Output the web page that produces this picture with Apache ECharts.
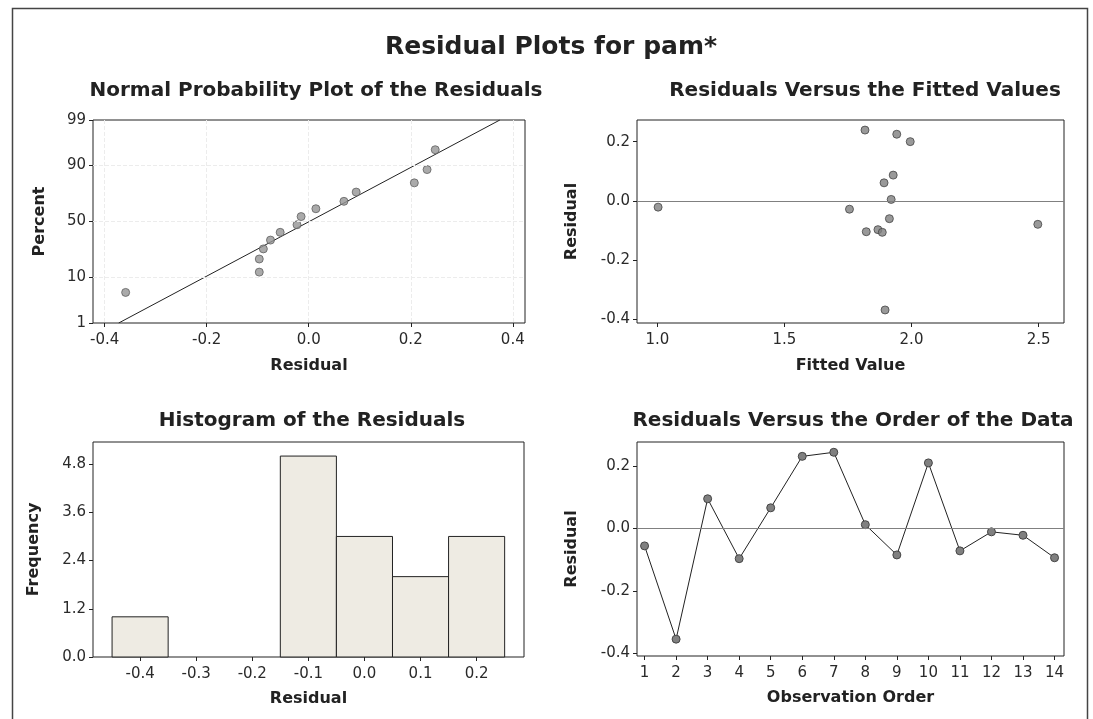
<!DOCTYPE html>
<html>
<head>
<meta charset="utf-8">
<script src="https://cdn.jsdelivr.net/npm/echarts@6/dist/echarts.min.js"></script>
<style>
html,body{margin:0;padding:0;background:#fff;}
#chart{width:1093px;height:719px;}
</style>
</head>
<body>
<div id="chart"></div>
<script>
// ---------- data ----------
const mainTitle = 'Residual Plots for pam*';
const panelTitles = ['Normal Probability Plot of the Residuals','Residuals Versus the Fitted Values','Histogram of the Residuals','Residuals Versus the Order of the Data'];

// normal probability plot (residual, percent)
const probResidual = [-0.359,-0.097,-0.097,-0.089,-0.075,-0.056,-0.023,-0.015,0.014,0.069,0.093,0.207,0.232,0.248];
const probPercent  = [5.2,12.3,19.5,26.5,33.5,40.2,47.0,54.5,61.5,67.8,75.0,81.2,88.3,95.0];
const fitLineResidual = [-0.3726, 0.3747];
const fitLinePercent  = [1, 99];
const percentTicks = [1,10,50,90,99];
const percentGrid = [10,50,90];
const probXTicks = [-0.4,-0.2,0.0,0.2,0.4];

// residuals vs fitted
const fittedValues = [1.817,1.942,1.995,1.928,1.892,1.920,1.003,1.756,1.913,1.822,1.868,1.885,1.896,2.497];
const fittedResiduals = [0.239,0.225,0.200,0.087,0.061,0.005,-0.021,-0.028,-0.060,-0.104,-0.097,-0.106,-0.368,-0.079];
const fittedXTicks = [1.0,1.5,2.0,2.5];
const residualTicks = [-0.4,-0.2,0.0,0.2];

// histogram
const binMid = [-0.4,-0.3,-0.2,-0.1,0.0,0.1,0.2];
const binCount = [1,0,0,5,3,2,3];
const binWidth = 0.1;
const freqTicks = [0.0,1.2,2.4,3.6,4.8];

// residuals vs order
const orderIndex = [1,2,3,4,5,6,7,8,9,10,11,12,13,14];
const orderResiduals = [-0.056,-0.355,0.095,-0.097,0.066,0.231,0.244,0.012,-0.085,0.210,-0.072,-0.011,-0.022,-0.094];

// ---------- helpers ----------
function normInv(p){
  const a=[-3.969683028665376e+01,2.209460984245205e+02,-2.759285104469687e+02,1.383577518672690e+02,-3.066479806614716e+01,2.506628277459239e+00];
  const b=[-5.447609879822406e+01,1.615858368580409e+02,-1.556989798598866e+02,6.680131188771972e+01,-1.328068155288572e+01];
  const c=[-7.784894002430293e-03,-3.223964580411365e-01,-2.400758277161838e+00,-2.549732539343734e+00,4.374664141464968e+00,2.938163982698783e+00];
  const d=[7.784695709041462e-03,3.224671290700398e-01,2.445134137142996e+00,3.754408661907416e+00];
  const pl=0.02425, ph=1-pl; let q,r;
  if(p<pl){q=Math.sqrt(-2*Math.log(p));return (((((c[0]*q+c[1])*q+c[2])*q+c[3])*q+c[4])*q+c[5])/((((d[0]*q+d[1])*q+d[2])*q+d[3])*q+1);}
  if(p<=ph){q=p-0.5;r=q*q;return (((((a[0]*r+a[1])*r+a[2])*r+a[3])*r+a[4])*r+a[5])*q/(((((b[0]*r+b[1])*r+b[2])*r+b[3])*r+b[4])*r+1);}
  q=Math.sqrt(-2*Math.log(1-p));return -(((((c[0]*q+c[1])*q+c[2])*q+c[3])*q+c[4])*q+c[5])/((((d[0]*q+d[1])*q+d[2])*q+d[3])*q+1);
}
const zOf = pct => normInv(pct/100);
const zTicks = percentTicks.map(zOf);

const FONT = 'DejaVu Sans';
const labelStyle = {color:'#2a2a2a', fontSize:15, fontFamily:FONT};
const nameStyle = {color:'#222', fontSize:16, fontWeight:'bold', fontFamily:FONT};
const markerStyle = {color:'#808080', borderColor:'#454545', borderWidth:1};

function xAxis(gi, min, max, ticks, fmt, name, nameGap){
  return {type:'value', gridIndex:gi, position:'bottom', min, max, name, nameLocation:'middle', nameGap, nameTextStyle:nameStyle,
    axisLine:{show:false, onZero:false}, axisTick:{show:true, inside:false, length:4, customValues:ticks, lineStyle:{color:'#222'}},
    axisLabel:Object.assign({customValues:ticks, margin:10, formatter:fmt, showMinLabel:true, showMaxLabel:true}, labelStyle),
    splitLine:{show:false}};
}
function yAxis(gi, min, max, ticks, fmt, name, nameGap){
  return {type:'value', gridIndex:gi, position:'left', min, max, name, nameLocation:'middle', nameGap, nameTextStyle:nameStyle,
    axisLine:{show:false, onZero:false}, axisTick:{show:true, inside:false, length:4, customValues:ticks, lineStyle:{color:'#222'}},
    axisLabel:Object.assign({customValues:ticks, margin:7, formatter:fmt, showMinLabel:true, showMaxLabel:true}, labelStyle),
    splitLine:{show:false}};
}
const f1 = v => Number(v).toFixed(1);
const fInt = v => String(Math.round(v));
const fPct = v => { let best=percentTicks[0], bd=1e9; percentTicks.forEach((p,i)=>{const dd=Math.abs(zTicks[i]-v); if(dd<bd){bd=dd;best=p;}}); return String(best); };

const gridStyle = {show:true, borderColor:'#222', borderWidth:1, backgroundColor:'#fff', containLabel:false};
const grids = [
  Object.assign({left:93, top:120, width:432, height:203}, gridStyle),
  Object.assign({left:637, top:120, width:427, height:203}, gridStyle),
  Object.assign({left:93, top:442, width:431, height:215}, gridStyle),
  Object.assign({left:637, top:442, width:427, height:214}, gridStyle)
];

const xAxes = [
  xAxis(0, -0.423, 0.424, probXTicks, f1, 'Residual', 35),
  xAxis(1, 0.92, 2.60, fittedXTicks, f1, 'Fitted Value', 35),
  xAxis(2, -0.484, 0.2845, binMid, f1, 'Residual', 34),
  xAxis(3, 0.76, 14.3, orderIndex, fInt, 'Observation Order', 34)
];
xAxes[0].splitLine = {show:true, lineStyle:{color:'#ececec', type:'dashed'}};
const yAxes = [
  yAxis(0, zOf(1), zOf(99), zTicks, fPct, 'Percent', 45),
  yAxis(1, -0.412, 0.273, residualTicks, f1, 'Residual', 57),
  yAxis(2, 0, 5.35, freqTicks, f1, 'Frequency', 51),
  yAxis(3, -0.409, 0.277, residualTicks, f1, 'Residual', 57)
];

const zeroLine = {silent:true, symbol:'none', label:{show:false}, lineStyle:{color:'#808080', width:1, type:'solid'}, data:[{yAxis:0}]};
const probGrid = {silent:true, symbol:'none', label:{show:false}, lineStyle:{color:'#ececec', width:1, type:'dashed'},
  data:percentGrid.map(p=>({yAxis:zOf(p)}))};

const series = [
  {type:'line', xAxisIndex:0, yAxisIndex:0, data:fitLineResidual.map((x,i)=>[x, zOf(fitLinePercent[i])]),
   symbol:'none', lineStyle:{color:'#222', width:1}, silent:true, z:3, markLine:probGrid},
  {type:'scatter', xAxisIndex:0, yAxisIndex:0, data:probResidual.map((x,i)=>[x, zOf(probPercent[i])]),
   symbolSize:8, itemStyle:{color:'#959595', borderColor:'#606060', borderWidth:1}, z:4},
  {type:'scatter', xAxisIndex:1, yAxisIndex:1, data:fittedValues.map((x,i)=>[x, fittedResiduals[i]]),
   symbolSize:8, itemStyle:markerStyle, markLine:zeroLine, z:4},
  {type:'custom', xAxisIndex:2, yAxisIndex:2, data:binMid.map((m,i)=>[m, binCount[i]]),
   renderItem:function(params, api){
     const mid = api.value(0), cnt = api.value(1);
     if(!cnt) return null;
     const p0 = api.coord([mid - binWidth/2, cnt]);
     const p1 = api.coord([mid + binWidth/2, 0]);
     return {type:'rect', shape:{x:p0[0], y:p0[1], width:p1[0]-p0[0], height:p1[1]-p0[1]},
             style:{fill:'#eeebe3', stroke:'#222', lineWidth:1}};
   }, z:3},
  {type:'line', xAxisIndex:3, yAxisIndex:3, data:orderIndex.map((x,i)=>[x, orderResiduals[i]]),
   symbol:'circle', symbolSize:8, lineStyle:{color:'#222', width:1}, itemStyle:markerStyle, markLine:zeroLine, z:4}
];

const titleBase = {textAlign:'center', textStyle:{fontFamily:FONT, fontWeight:'bold', color:'#222', fontSize:20}};
const titles = [
  {text:mainTitle, left:546, top:30, textAlign:'center', textStyle:{fontFamily:FONT, fontWeight:'bold', color:'#222', fontSize:25}},
  Object.assign({text:panelTitles[0], left:311, top:76}, titleBase),
  Object.assign({text:panelTitles[1], left:860, top:76}, titleBase),
  Object.assign({text:panelTitles[2], left:307, top:406}, titleBase),
  Object.assign({text:panelTitles[3], left:848, top:406}, titleBase)
];

const chart = echarts.init(document.getElementById('chart'), null, {renderer:'canvas'});
chart.setOption({
  animation:false,
  backgroundColor:'#fff',
  title:titles,
  grid:grids,
  xAxis:xAxes,
  yAxis:yAxes,
  series:series,
  graphic:[{type:'rect', silent:true, z:-1, shape:{x:12.5, y:8.5, width:1075, height:720}, style:{fill:'none', stroke:'#444', lineWidth:1.5}}]
});
</script>
</body>
</html>
